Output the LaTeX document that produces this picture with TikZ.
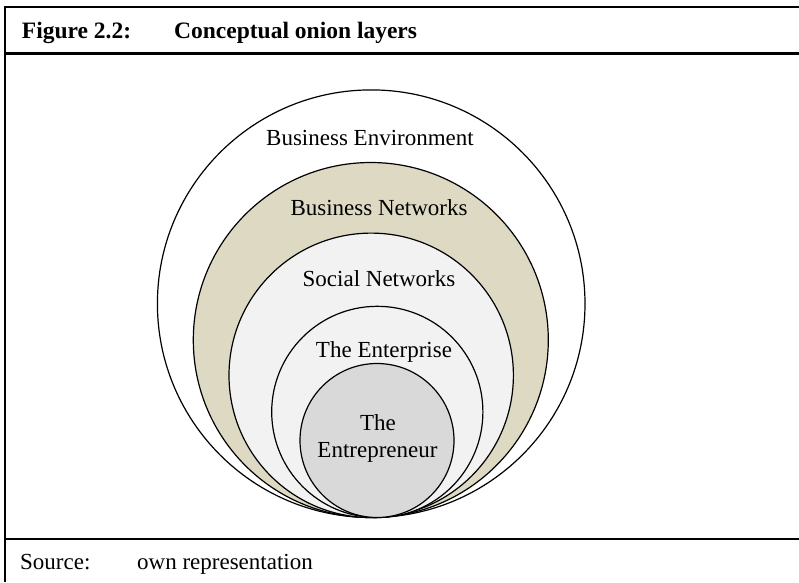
\documentclass[tikz,border=0pt]{standalone}
\usepackage{fontspec}
\setmainfont{Liberation Serif}
\definecolor{tanfill}{HTML}{DDD9C3}
\definecolor{lightfill}{HTML}{F2F2F2}
\definecolor{grayfill}{HTML}{D9D9D9}
\begin{document}
\begin{tikzpicture}[x=1pt,y=-1pt,
  layer/.style={circle,draw=black,line width=1.2pt,inner sep=0pt,outer sep=0pt},
  lbl/.style={anchor=base,inner sep=0pt,font=\fontsize{23}{27}\selectfont},
  txt/.style={anchor=base west,inner sep=0pt,font=\fontsize{23}{27}\selectfont},
  rule/.style={line width=2.2pt}]
\useasboundingbox (0,0) rectangle (799,582);
% frame
\coordinate (tl) at (5,7);
\coordinate (tr) at (799,7);
\coordinate (hl) at (5,53.5);
\coordinate (hr) at (799,53.5);
\coordinate (bl) at (5,539);
\coordinate (br) at (799,539);
\coordinate (lb) at (5,582);
\draw[line width=2.6pt] ([xshift=-1pt]tl) -- (tr);
\draw[rule] (hl) -- (hr);
\draw[rule] (bl) -- (br);
\draw[rule] (tl) -- (lb);
% title
\node[txt,font=\fontsize{23.5}{27}\selectfont\bfseries] (fig) at (21.7,38.3) {Figure 2.2:};
\node[txt,font=\fontsize{23.5}{27}\selectfont\bfseries] (title) at (174,38.3) {Conceptual onion layers};
% circles
\node[layer,fill=white,minimum size=427.6pt] (env) at (371.2,303.7) {};
\node[layer,fill=tanfill,minimum size=355pt] (bnet) at (370.8,340) {};
\node[layer,fill=lightfill,minimum size=284.4pt] (snet) at (371.2,375.3) {};
\node[layer,fill=lightfill,minimum size=211.2pt] (ent) at (377.3,411.9) {};
\node[layer,fill=grayfill,minimum size=154pt] (epr) at (377,440.5) {};
% labels
\node[lbl] (lenv) at (370,145) {Business Environment};
\node[lbl] (lbnet) at (379,215) {Business Networks};
\node[lbl] (lsnet) at (379,286.7) {Social Networks};
\node[lbl] (lent) at (384,357) {The Enterprise};
\node[lbl] (lepr1) at (378,430) {The};
\node[lbl] (lepr2) at (377.5,457) {Entrepreneur};
% source
\node[txt] (src) at (20,569.3) {Source:};
\node[txt] (srcval) at (137,569.3) {own representation};
\end{tikzpicture}
\end{document}
